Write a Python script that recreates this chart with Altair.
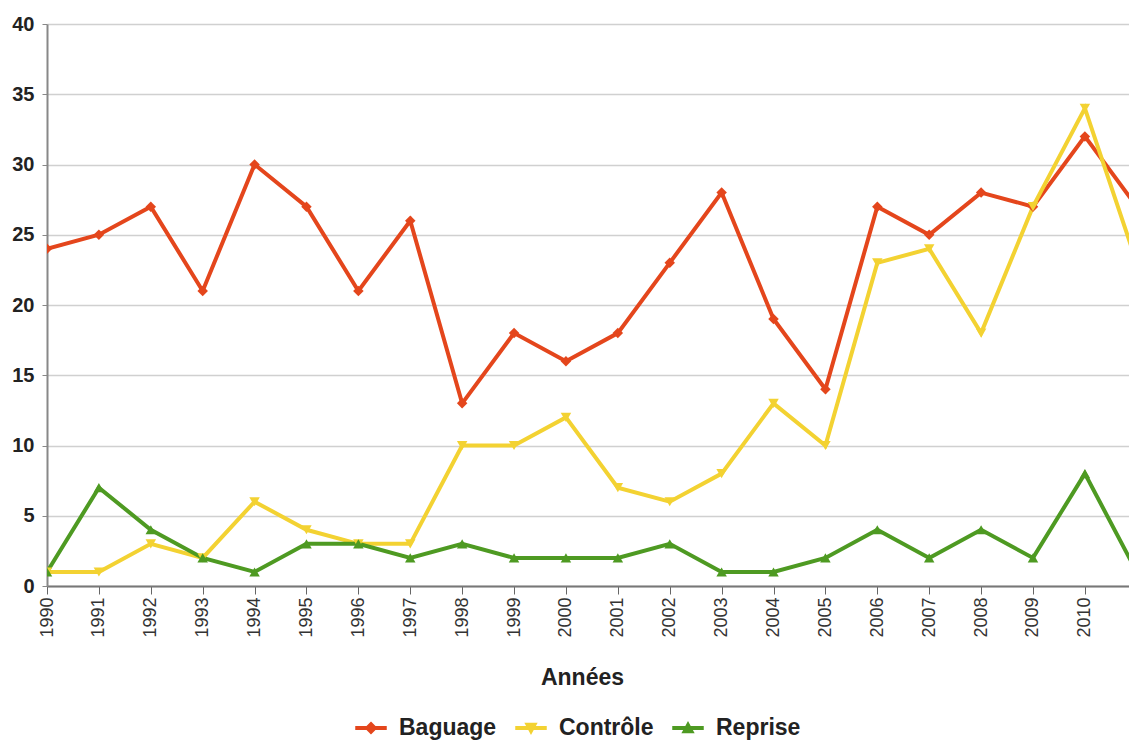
import altair as alt
import pandas as pd

years = list(range(1990, 2012))
baguage = [24, 25, 27, 21, 30, 27, 21, 26, 13, 18, 16, 18, 23, 28, 19, 14, 27, 25, 28, 27, 32, 27]
controle = [1, 1, 3, 2, 6, 4, 3, 3, 10, 10, 12, 7, 6, 8, 13, 10, 23, 24, 18, 27, 34, 23]
reprise = [1, 7, 4, 2, 1, 3, 3, 2, 3, 2, 2, 2, 3, 1, 1, 2, 4, 2, 4, 2, 8, 1]

series = ["Baguage", "Contrôle", "Reprise"]
colors = ["#E4461C", "#F3D232", "#4E9A22"]
marker_shapes = ["diamond", "triangle-down", "triangle-up"]
legend_paths = [
    "M-1,-0.09L1,-0.09L1,0.09L-1,0.09Z M0,-0.36L0.36,0L0,0.36L-0.36,0Z",
    "M-1,-0.09L1,-0.09L1,0.09L-1,0.09Z M-0.36,-0.3L0.36,-0.3L0,0.36Z",
    "M-1,-0.09L1,-0.09L1,0.09L-1,0.09Z M-0.36,0.3L0,-0.36L0.36,0.3Z",
]
y_ticks = [0, 5, 10, 15, 20, 25, 30, 35, 40]
x_ticks = list(range(1990, 2011))

rows = []
for name, vals in zip(series, [baguage, controle, reprise]):
    for yr, v in zip(years, vals):
        rows.append({"Année": yr, "Valeur": v, "Série": name})
df = pd.DataFrame(rows)

FONT = "Liberation Sans"

x = alt.X(
    "Année:Q",
    scale=alt.Scale(domain=[1990, 2010.85], nice=False, zero=False),
    axis=alt.Axis(
        values=x_ticks, format="d", labelAngle=-90, labelFontSize=18,
        labelColor="#333", labelFont=FONT, labelPadding=3,
        tickSize=8, tickColor="#666", domainColor="#777", domainWidth=2,
        grid=False, title="Années", titleFont=FONT, titleFontSize=23,
        titleFontWeight="bold", titleColor="#222", titleBaseline="middle",
        titleY=91, titleX=535,
    ),
)
y = alt.Y(
    "Valeur:Q",
    scale=alt.Scale(domain=[0, 40], nice=False),
    axis=alt.Axis(
        values=y_ticks, labelFontSize=20, labelFontWeight="bold", labelColor="#222",
        labelFont=FONT, labelPadding=8, tickSize=5, tickColor="#888",
        domainColor="#888", domainWidth=2, gridColor="#d0d0d0", gridWidth=1.5,
        title=None,
    ),
)
color_scale = alt.Scale(domain=series, range=colors)
color_plain = alt.Color("Série:N", scale=color_scale)

base = alt.Chart(df)

legend_props = dict(
    title=None, orient="none", legendX=308, legendY=688,
    direction="horizontal", labelFont=FONT, labelFontSize=23,
    labelFontWeight="bold", labelColor="#222", symbolSize=900,
    labelOffset=12, columnPadding=16, padding=0,
)

legend_layer = (
    base.transform_filter("datum['Année'] > 3000")
    .mark_point(filled=True, opacity=1)
    .encode(
        x=x, y=y,
        color=alt.Color("Série:N", scale=color_scale, legend=alt.Legend(**legend_props)),
        shape=alt.Shape("Série:N", scale=alt.Scale(domain=series, range=legend_paths),
                        legend=alt.Legend(**legend_props)),
    )
)

lines = base.mark_line(strokeWidth=4, clip=True).encode(x=x, y=y, color=color_plain)

point_layers = []
for name, shp in zip(series, marker_shapes):
    point_layers.append(
        base.transform_filter(alt.datum["Série"] == name)
        .mark_point(filled=True, opacity=1, size=110, shape=shp, clip=True)
        .encode(x=x, y=y, color=color_plain)
    )

chart = (
    alt.layer(legend_layer, lines, *point_layers)
    .properties(
        width=1082, height=562,
        autosize=alt.AutoSizeParams(type="none"),
        padding={"left": 39, "top": 16, "right": 0, "bottom": 155},
        background="white",
    )
    .configure_view(stroke=None)
)

chart.save("out.html", embed_options={"renderer": "svg", "actions": False})
